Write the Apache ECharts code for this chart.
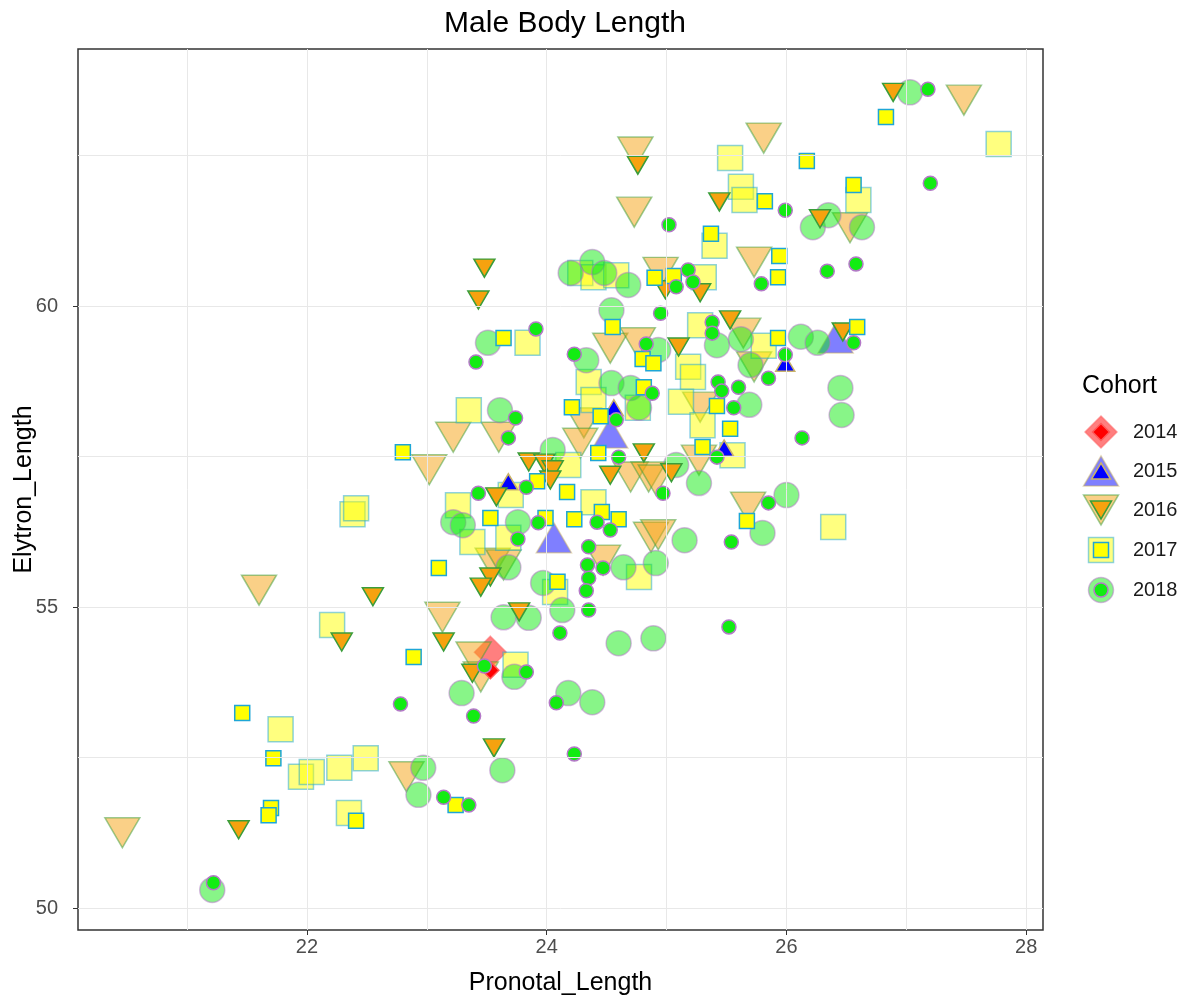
<!DOCTYPE html>
<html>
<head>
<meta charset="utf-8">
<title>Male Body Length</title>
<script src="https://cdn.jsdelivr.net/npm/echarts@6/dist/echarts.min.js"></script>
<style>
    html, body { margin: 0; padding: 0; background: #fff; }
    #chart { width: 1191px; height: 1001px; }
</style>
</head>
<body>
<div id="chart"></div>
<script>
// [Pronotal_Length, Elytron_Length]
// big = large translucent points, small = small solid points
var big2014 = [[23.53, 54.25]];
var small2014 = [[23.53, 53.95]];

var big2015 = [[24.53, 57.89], [24.06, 56.15], [26.41, 59.47]];
var small2015 = [[23.68, 57.08], [24.56, 58.31], [25.99, 59.05], [25.48, 57.64]];

var big2016 = [[27.48, 63.42], [24.74, 62.56], [24.73, 61.56], [25.81, 62.79], [26.53, 61.30], [25.73, 60.73],
    [24.95, 60.56], [24.53, 59.30], [24.76, 59.39], [25.64, 59.55], [25.73, 58.99], [24.31, 58.06], [24.28, 57.72],
    [23.22, 57.82], [23.60, 57.82], [23.02, 57.28], [24.70, 57.16], [24.85, 57.16], [25.28, 58.32], [25.27, 57.44],
    [24.87, 56.16], [24.47, 55.78], [23.55, 55.73], [23.64, 55.70], [25.68, 56.66], [24.93, 56.20], [24.91, 57.11],
    [23.13, 54.83], [23.39, 54.17], [23.45, 53.84], [22.83, 52.18], [21.60, 55.28], [20.46, 51.25]];
var small2016 = [[26.89, 63.55], [24.76, 62.34], [25.44, 61.73], [26.28, 61.45], [24.99, 60.27], [25.28, 60.22],
    [23.48, 60.63], [23.43, 60.10], [25.53, 59.77], [26.47, 59.57], [25.10, 59.32], [24.81, 57.56], [23.85, 57.41],
    [23.98, 57.39], [24.05, 57.28], [24.03, 57.11], [24.53, 57.19], [23.58, 56.83], [25.04, 57.23], [23.53, 55.50],
    [23.45, 55.33], [23.77, 54.92], [23.14, 54.42], [23.38, 53.90], [23.56, 52.66], [22.55, 55.17], [22.29, 54.42],
    [21.43, 51.30]];

var big2017 = [[27.77, 62.69], [25.53, 62.46], [25.62, 61.98], [25.65, 61.76], [26.60, 61.76], [25.40, 61.00],
    [25.31, 60.48], [24.28, 60.55], [24.39, 60.48], [24.58, 60.51], [23.84, 59.39], [24.35, 58.74], [24.39, 58.44],
    [24.76, 58.31], [25.28, 59.68], [25.81, 59.34], [25.18, 58.99], [25.22, 58.82], [25.12, 58.41], [25.30, 58.02],
    [25.55, 57.52], [23.35, 58.27], [24.18, 57.36], [23.26, 56.69], [23.38, 56.08], [23.68, 56.15], [23.70, 56.86],
    [24.39, 56.74], [24.77, 55.50], [24.07, 55.25], [23.74, 54.04], [26.39, 56.33], [22.38, 56.54], [22.41, 56.64],
    [22.21, 54.70], [21.78, 52.97], [21.95, 52.18], [22.04, 52.26], [22.27, 52.33], [22.49, 52.49], [22.35, 51.58]];
var small2017 = [[26.83, 63.14], [26.17, 62.41], [25.82, 61.74], [26.56, 62.01], [25.37, 61.20], [25.94, 60.83],
    [25.93, 60.48], [24.90, 60.47], [25.06, 60.50], [24.55, 59.65], [23.64, 59.47], [24.80, 59.12], [24.89, 59.05],
    [24.81, 58.65], [24.21, 58.32], [24.45, 58.17], [25.93, 59.47], [26.59, 59.65], [25.42, 58.34], [25.53, 57.96],
    [25.30, 57.66], [25.67, 56.43], [24.43, 57.56], [23.92, 57.09], [23.53, 56.48], [23.99, 56.48], [24.17, 56.91],
    [24.46, 56.58], [24.23, 56.46], [24.60, 56.46], [24.09, 55.42], [23.10, 55.65], [22.89, 54.17], [22.80, 57.57],
    [23.24, 51.71], [21.46, 53.24], [21.72, 52.49], [21.70, 51.66], [21.68, 51.54], [22.41, 51.45]];

var big2018 = [[27.03, 63.55], [26.22, 61.31], [26.35, 61.51], [26.63, 61.31], [24.20, 60.55], [24.38, 60.73],
    [24.48, 60.55], [24.68, 60.35], [24.54, 59.93], [23.51, 59.39], [24.33, 59.10], [24.54, 58.72], [24.70, 58.64],
    [24.77, 58.31], [23.61, 58.27], [24.05, 57.61], [25.42, 59.35], [25.62, 59.45], [26.12, 59.49], [26.26, 59.39],
    [24.93, 59.27], [25.70, 59.02], [25.69, 58.36], [26.45, 58.64], [26.46, 58.19], [25.08, 57.36], [25.27, 57.06],
    [26.00, 56.86], [25.80, 56.23], [25.15, 56.11], [24.91, 55.73], [24.89, 54.48], [24.60, 54.40], [24.64, 55.66],
    [23.22, 56.41], [23.30, 56.36], [23.76, 56.41], [23.68, 55.66], [23.97, 55.40], [24.13, 54.95], [23.64, 54.83],
    [23.85, 54.82], [23.73, 53.84], [23.29, 53.57], [24.18, 53.57], [24.38, 53.42], [23.63, 52.29], [22.97, 52.33],
    [22.93, 51.88], [21.21, 50.30]];
var small2018 = [[27.18, 63.60], [27.20, 62.04], [25.99, 61.59], [25.02, 61.35], [25.79, 60.37], [26.34, 60.58],
    [26.58, 60.70], [25.18, 60.60], [25.22, 60.40], [25.08, 60.32], [24.95, 59.88], [23.91, 59.62], [23.41, 59.07],
    [24.23, 59.20], [24.83, 59.37], [24.88, 58.55], [24.58, 58.11], [23.74, 58.14], [23.68, 57.81], [25.38, 59.73],
    [25.38, 59.55], [25.99, 59.19], [26.56, 59.39], [25.43, 58.74], [25.46, 58.59], [25.60, 58.65], [25.56, 58.31],
    [25.85, 58.80], [26.13, 57.81], [25.42, 57.49], [24.97, 56.89], [25.85, 56.73], [25.54, 56.08], [25.52, 54.67],
    [24.60, 57.49], [23.43, 56.89], [23.83, 56.99], [23.76, 56.13], [23.93, 56.40], [24.42, 56.41], [24.53, 56.28],
    [24.35, 56.00], [24.34, 55.70], [24.35, 55.48], [24.33, 55.27], [24.35, 54.95], [24.47, 55.65], [23.83, 53.92],
    [23.48, 54.02], [24.11, 54.57], [23.39, 53.19], [24.08, 53.41], [24.23, 52.56], [23.14, 51.84], [23.35, 51.71],
    [22.78, 53.39], [21.22, 50.42]];

var cohorts = ['2014', '2015', '2016', '2017', '2018'];
var bigData = [big2014, big2015, big2016, big2017, big2018];
var smallData = [small2014, small2015, small2016, small2017, small2018];

var xTicks = [22, 24, 26, 28];
var yTicks = [50, 55, 60];
var xGrid = [21, 22, 23, 24, 25, 26, 27, 28];
var yGrid = [50, 52.5, 55, 57.5, 60, 62.5];

var shapes = ['diamond', 'triangle', 'triangle', 'rect', 'circle'];
var rotations = [0, 0, 180, 0, 0];
var bigSizes = [[32, 32], [35, 30], [35, 30], [25, 25], [25, 25]];
var smallSizes = [[17, 17], [19, 16], [21, 18], [15, 15], [14, 14]];
var fills = ['#ff0000', '#0000ff', '#f6a20f', '#ffff00', '#12ec12'];
var strokes = ['#ff5a5a', '#c9b26a', '#3a9d3a', '#1ea6d6', '#b478c8'];
var font = 'Liberation Sans, Arial, sans-serif';

var chart = echarts.init(document.getElementById('chart'));

var series = [];
cohorts.forEach(function (c, i) {
    series.push({
        name: c,
        type: 'scatter',
        data: bigData[i],
        symbol: shapes[i],
        symbolRotate: rotations[i],
        symbolSize: bigSizes[i],
        z: 2,
        itemStyle: {color: fills[i], borderColor: strokes[i], borderWidth: 1.5, opacity: 0.5},
        emphasis: {disabled: true}
    });
});
cohorts.forEach(function (c, i) {
    series.push({
        name: c + ' small',
        type: 'scatter',
        data: smallData[i],
        symbol: shapes[i],
        symbolRotate: rotations[i],
        symbolSize: smallSizes[i],
        z: 3,
        itemStyle: {color: fills[i], borderColor: strokes[i], borderWidth: 1.5, opacity: 1},
        emphasis: {disabled: true}
    });
});

// panel grid lines
series[0].markLine = {
    silent: true,
    symbol: 'none',
    animation: false,
    label: {show: false},
    lineStyle: {color: '#e8e8e8', width: 1, type: 'solid'},
    emphasis: {disabled: true},
    data: xGrid.map(function (v) { return {xAxis: v}; }).concat(yGrid.map(function (v) { return {yAxis: v}; }))
};

// legend, drawn as in ggplot (large key with the small key on top)
var legendX = 1101, legendY = [432, 471, 510, 550, 590];
function keyShape(i, size, style) {
    var w = size[0] / 2, h = size[1] / 2;
    if (shapes[i] === 'circle') return {type: 'circle', shape: {cx: legendX, cy: legendY[i], r: w}, style: style};
    if (shapes[i] === 'rect') return {type: 'rect', shape: {x: legendX - w, y: legendY[i] - h, width: 2 * w, height: 2 * h}, style: style};
    var pts;
    if (shapes[i] === 'diamond') pts = [[legendX, legendY[i] - h], [legendX + w, legendY[i]], [legendX, legendY[i] + h], [legendX - w, legendY[i]]];
    else if (rotations[i] === 180) pts = [[legendX - w, legendY[i] - h], [legendX + w, legendY[i] - h], [legendX, legendY[i] + h]];
    else pts = [[legendX, legendY[i] - h], [legendX + w, legendY[i] + h], [legendX - w, legendY[i] + h]];
    return {type: 'polygon', shape: {points: pts}, style: style};
}
var legendGraphic = [{
    type: 'text', left: 1082, top: 374,
    style: {text: 'Cohort', font: '25px ' + font, fill: '#000'}
}];
cohorts.forEach(function (c, i) {
    legendGraphic.push(keyShape(i, bigSizes[i], {fill: fills[i], stroke: strokes[i], lineWidth: 1.5, opacity: 0.5}));
    legendGraphic.push(keyShape(i, smallSizes[i], {fill: fills[i], stroke: strokes[i], lineWidth: 1.5}));
    legendGraphic.push({
        type: 'text', x: 1133, y: legendY[i],
        style: {text: c, font: '20px ' + font, fill: '#1a1a1a', textVerticalAlign: 'middle'}
    });
});

chart.setOption({
    animation: false,
    backgroundColor: '#fff',
    title: {
        text: 'Male Body Length',
        left: 560,
        top: 4,
        textAlign: 'center',
        textStyle: {fontFamily: font, fontSize: 30, fontWeight: 'normal', color: '#000'}
    },
    grid: {
        left: 78, right: 148, top: 49, bottom: 71,
        outerBoundsMode: 'none',
        containLabel: false,
        show: true, borderColor: '#333', borderWidth: 1.5, backgroundColor: 'transparent'
    },
    xAxis: {
        type: 'value',
        min: 20.09,
        max: 28.14,
        name: 'Pronotal_Length',
        nameLocation: 'middle',
        nameGap: 41,
        nameMoveOverlap: false,
        nameTextStyle: {fontFamily: font, fontSize: 25, color: '#000'},
        axisLine: {show: false},
        axisTick: {show: true, length: 5, customValues: xTicks, lineStyle: {color: '#333', width: 1}},
        axisLabel: {customValues: xTicks, margin: 7, fontFamily: font, fontSize: 20, color: '#4d4d4d'},
        splitLine: {show: false}
    },
    yAxis: {
        type: 'value',
        min: 49.635,
        max: 64.27,
        name: 'Elytron_Length',
        nameLocation: 'middle',
        nameGap: 41,
        nameMoveOverlap: false,
        nameTextStyle: {fontFamily: font, fontSize: 25, color: '#000'},
        axisLine: {show: false},
        axisTick: {show: true, length: 5, customValues: yTicks, lineStyle: {color: '#333', width: 1}},
        axisLabel: {customValues: yTicks, margin: 20, fontFamily: font, fontSize: 20, color: '#4d4d4d'},
        splitLine: {show: false}
    },
    graphic: legendGraphic,
    series: series
});
</script>
</body>
</html>
